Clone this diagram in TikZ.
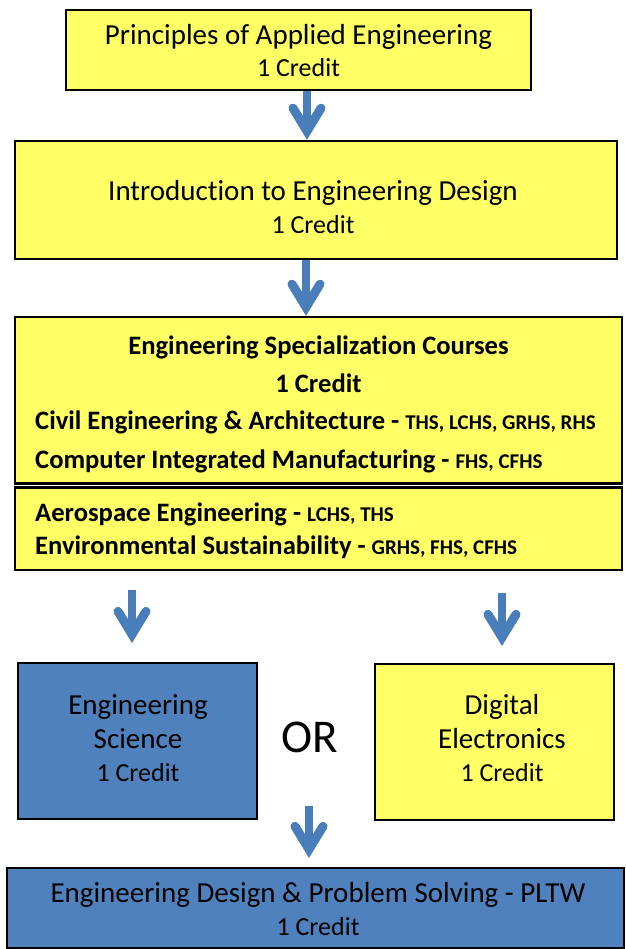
\documentclass[tikz,border=0pt]{standalone}
\usepackage{fontspec}
\setmainfont{Carlito}[Ligatures=NoCommon]
\usetikzlibrary{arrows.meta}
\definecolor{boxyellow}{RGB}{255,255,102}
\definecolor{boxblue}{RGB}{79,129,189}
\definecolor{arrowblue}{RGB}{74,126,187}
\begin{document}
\begin{tikzpicture}[x=1pt,y=-1pt,
  box/.style={draw=black, line width=2.4pt, rectangle, inner sep=0pt},
  ybox/.style={box, fill=boxyellow},
  bbox/.style={box, fill=boxblue},
  lbl/.style={inner sep=0pt, anchor=mid, align=center},
  big/.style={font=\fontsize{29}{33}\selectfont},
  mid/.style={font=\fontsize{26}{30}\selectfont},
  bigb/.style={font=\fontsize{26.6}{30}\selectfont\bfseries},
  flow/.style={draw=arrowblue, line width=8pt,
    -{Straight Barb[length=23pt,width=28pt,line width=9pt,line cap=round,line join=miter]}}]
\useasboundingbox (0,0) rectangle (625,949);
\newcommand{\sch}[1]{{\fontsize{21}{24}\selectfont #1}}

% boxes
\node[ybox, minimum width=465pt, minimum height=80pt] (b1) at (298.5,50) {};
\node[ybox, minimum width=602pt, minimum height=118pt] (b2) at (316,200) {};
\node[ybox, minimum width=607pt, minimum height=166.5pt] (b3) at (318.5,400.25) {};
\node[ybox, minimum width=607pt, minimum height=82.5pt] (b4) at (318.5,528.75) {};
\node[bbox, minimum width=239pt, minimum height=156pt] (es) at (137.5,741) {};
\node[ybox, minimum width=239pt, minimum height=156pt] (de) at (494.5,742) {};
\node[bbox, minimum width=617pt, minimum height=80pt] (fin) at (315.5,908) {};

% texts
\node[lbl, big] (b1t) at (298.5,42) {Principles of Applied Engineering};
\node[lbl, mid] (b1c) at (298.5,74) {1 Credit};
\node[lbl, big] (b2t) at (313,198) {Introduction to Engineering Design};
\node[lbl, mid] (b2c) at (313,231) {1 Credit};

\node[lbl, bigb] (b3t) at (318.5,352) {Engineering Specialization Courses};
\node[lbl, bigb] (b3c) at (318.5,390) {1 Credit};
\node[lbl, bigb, anchor=mid west] (cea) at (35,427) {Civil Engineering \& Architecture - \sch{THS, LCHS, GRHS, RHS}};
\node[lbl, bigb, anchor=mid west] (cim) at (35,466) {Computer Integrated Manufacturing - \sch{FHS, CFHS}};
\node[lbl, bigb, anchor=mid west] (ae) at (35,519) {Aerospace Engineering - \sch{LCHS, THS}};
\node[lbl, bigb, anchor=mid west] (env) at (35,552) {Environmental Sustainability - \sch{GRHS, FHS, CFHS}};

\node[lbl, big] (es1) at (138,712) {Engineering};
\node[lbl, big] (es2) at (138,746) {Science};
\node[lbl, mid] (es3) at (138,779) {1 Credit};
\node[lbl, big] (de1) at (502,712) {Digital};
\node[lbl, big] (de2) at (502,746) {Electronics};
\node[lbl, mid] (de3) at (502,779) {1 Credit};
\node[lbl, font=\fontsize{47}{52}\selectfont] (or) at (310,750) {OR};

\node[lbl, big] (fint) at (318,900) {Engineering Design \& Problem Solving - PLTW};
\node[lbl, mid] (finc) at (318,933) {1 Credit};

% arrows
\coordinate (x1) at (307,0);
\coordinate (x2) at (306,0);
\coordinate (la1) at (132,590); \coordinate (la2) at (132,643);
\coordinate (ra1) at (502,593); \coordinate (ra2) at (502,646);
\coordinate (ba1) at (309,806); \coordinate (ba2) at (309,858);
\draw[flow] (b1.south -| x1) -- (b2.north -| x1);
\draw[flow] (b2.south -| x2) -- (b3.north -| x2);
\draw[flow] (la1) -- (la2);
\draw[flow] (ra1) -- (ra2);
\draw[flow] (ba1) -- (ba2);
\end{tikzpicture}
\end{document}
